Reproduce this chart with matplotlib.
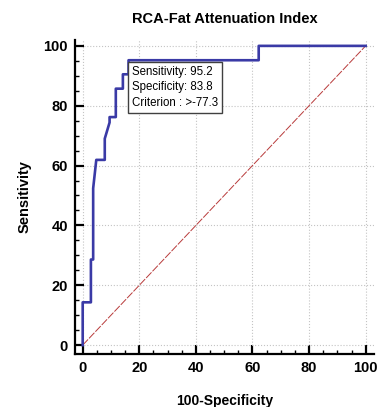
import matplotlib
matplotlib.use("Agg")
import matplotlib.pyplot as plt
from matplotlib.ticker import MultipleLocator

# ROC curve (100-Specificity, Sensitivity)
fpr = [0, 0, 2.9, 2.9, 3.7, 3.7, 4.8, 7.8, 7.8, 9.5, 9.5, 11.7, 11.7,
       14.2, 14.2, 16.2, 16.2, 62.2, 62.2, 100]
tpr = [0, 14.3, 14.3, 28.6, 28.6, 52.4, 61.9, 61.9, 69.0, 74.4, 76.2, 76.2,
       85.7, 85.7, 90.5, 90.5, 95.2, 95.2, 100, 100]
diag = [0, 100]
stats_text = "Sensitivity: 95.2\nSpecificity: 83.8\nCriterion : >-77.3"

plt.rcParams["font.family"] = ["Liberation Sans", "DejaVu Sans"]

fig = plt.figure(figsize=(3.81, 4.07), dpi=100)
ax = fig.add_axes([0.197, 0.130, 0.785, 0.772])

ax.plot(diag, diag, color="#b83a3a", lw=0.7, ls=(0, (8, 1.5)), zorder=2)
ax.plot(fpr, tpr, color="#3a3aa6", lw=1.9, zorder=3)

ax.set_xlim(-2.7, 103)
ax.set_ylim(-3, 102)
ax.set_xticks([0, 20, 40, 60, 80, 100])
ax.set_yticks([0, 20, 40, 60, 80, 100])
ax.xaxis.set_minor_locator(MultipleLocator(5))
ax.yaxis.set_minor_locator(MultipleLocator(5))

ax.grid(True, which="major", color="#c4c4c4", ls=":", lw=0.8, zorder=0)
ax.spines["top"].set_visible(False)
ax.spines["right"].set_visible(False)
ax.spines["left"].set_linewidth(1.6)
ax.spines["bottom"].set_linewidth(1.6)
ax.tick_params(which="major", direction="in", length=6.5, width=1.6,
               labelsize=10.5, pad=5)
ax.tick_params(which="minor", direction="in", length=3, width=1)
for lab in ax.get_xticklabels() + ax.get_yticklabels():
    lab.set_fontweight("bold")

ax.set_xlabel("100-Specificity", fontsize=10, fontweight="bold", labelpad=14)
ax.set_ylabel("Sensitivity", fontsize=10.5, fontweight="bold", labelpad=9)
ax.set_title("RCA-Fat Attenuation Index", fontsize=10.5, fontweight="bold",
             pad=12)

ax.text(17.4, 93.4, stats_text, fontsize=8.3, va="top", ha="left",
        linespacing=1.4, zorder=4,
        bbox=dict(boxstyle="square,pad=0.35", fc="white", ec="#404040", lw=1))

fig.savefig("out.png", dpi=100)
